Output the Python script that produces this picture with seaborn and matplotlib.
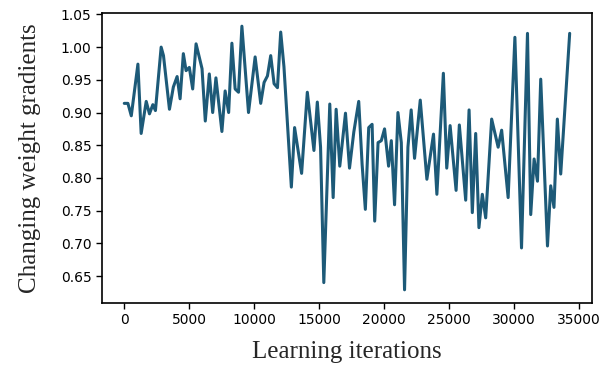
import numpy as np
import pandas as pd
import matplotlib
matplotlib.use("Agg")
import matplotlib.pyplot as plt
import seaborn as sns

# values (line vertices)
iterations = [
    0, 280, 540, 1050, 1300, 1690, 1940, 2200, 2400, 2840,
    3020, 3480, 3780, 4070, 4300, 4550, 4760, 5010, 5270, 5530,
    5990, 6240, 6550, 6810, 7060, 7520, 7770, 8040, 8290, 8540,
    8800, 9060, 9570, 10080, 10510, 10770, 11030, 11280, 11540, 11800,
    12050, 12300, 12870, 13120, 13660, 14100, 14610, 14870, 15120, 15370,
    15830, 16090, 16320, 16600, 17040, 17350, 17680, 18060, 18320, 18570,
    18830, 19090, 19290, 19550, 19800, 20050, 20360, 20570, 20820, 21080,
    21340, 21590, 21850, 22100, 22360, 22800, 23310, 23820, 24080, 24580,
    24840, 25100, 25560, 25810, 26300, 26560, 26810, 27070, 27320, 27580,
    27840, 28300, 28800, 29070, 29570, 30090, 30600, 31060, 31310, 31570,
    31830, 32080, 32600, 32850, 33100, 33360, 33620, 34310,
]
gradients = [
    0.914, 0.914, 0.895, 0.974, 0.868, 0.917, 0.898, 0.912, 0.903, 1.000,
    0.987, 0.905, 0.939, 0.955, 0.921, 0.990, 0.964, 0.969, 0.936, 1.005,
    0.967, 0.887, 0.959, 0.900, 0.953, 0.871, 0.933, 0.900, 1.006, 0.936,
    0.931, 1.032, 0.900, 0.985, 0.914, 0.946, 0.956, 0.987, 0.944, 0.938,
    1.023, 0.970, 0.786, 0.877, 0.807, 0.931, 0.842, 0.916, 0.847, 0.640,
    0.913, 0.770, 0.905, 0.818, 0.899, 0.815, 0.870, 0.917, 0.821, 0.752,
    0.877, 0.882, 0.734, 0.854, 0.857, 0.875, 0.818, 0.857, 0.759, 0.900,
    0.854, 0.629, 0.847, 0.904, 0.830, 0.919, 0.798, 0.867, 0.775, 0.960,
    0.815, 0.880, 0.781, 0.881, 0.766, 0.904, 0.747, 0.868, 0.724, 0.775,
    0.739, 0.890, 0.847, 0.873, 0.770, 1.015, 0.693, 1.021, 0.744, 0.829,
    0.795, 0.951, 0.696, 0.788, 0.755, 0.890, 0.806, 1.021,
]
x_ticks = [0, 5000, 10000, 15000, 20000, 25000, 30000, 35000]
y_ticks = [0.65, 0.70, 0.75, 0.80, 0.85, 0.90, 0.95, 1.00, 1.05]

df = pd.DataFrame({"iter": iterations, "grad": gradients})

sns.set_style("ticks")
plt.rcParams["font.family"] = ["DejaVu Sans"]

fig = plt.figure(figsize=(6.09, 3.67), dpi=100)
ax = fig.add_axes([0.1675, 0.1744, 0.8045, 0.7902])

sns.lineplot(data=df, x="iter", y="grad", ax=ax, color="#1d5a78", linewidth=2.2)

ax.set_xticks(x_ticks)
ax.set_yticks(y_ticks)
ax.set_xticklabels([str(t) for t in x_ticks], fontsize=10)
ax.set_yticklabels([f"{t:.2f}" for t in y_ticks], fontsize=10)
ax.tick_params(direction="out", length=4, width=1, colors="black")
for s in ax.spines.values():
    s.set_color("black")
    s.set_linewidth(1.2)

ax.set_xlabel("Learning iterations", family="Liberation Serif", fontsize=18, labelpad=10)
ax.set_ylabel("Changing weight gradients", family="Liberation Serif", fontsize=18, labelpad=14)

fig.savefig("out.png", dpi=100)
